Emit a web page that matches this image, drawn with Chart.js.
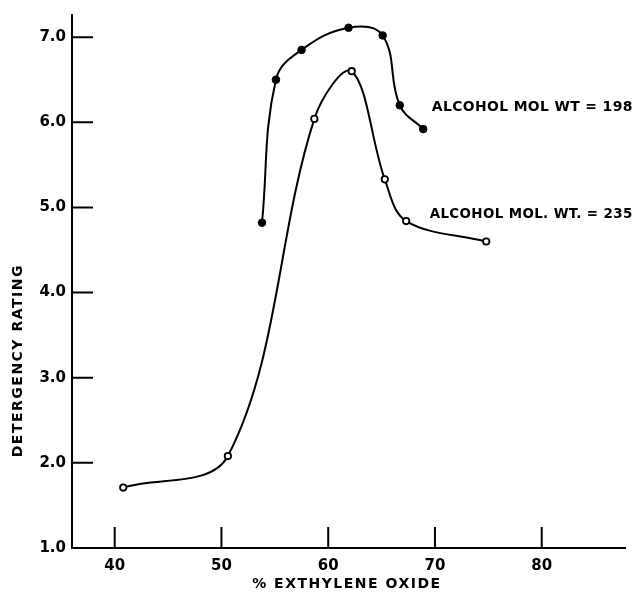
<!DOCTYPE html>
<html>
<head>
<meta charset="utf-8">
<script src="https://cdn.jsdelivr.net/npm/chart.js@4"></script>
<style>
  html, body { margin: 0; padding: 0; background: #fff; }
  #wrap { width: 639px; height: 597px; position: relative; }
</style>
</head>
<body>
<div id="wrap"><canvas id="detChart"></canvas></div>
<script>
// Values
const xTicks = [40, 50, 60, 70, 80];
const yTicks = [1, 2, 3, 4, 5, 6, 7];

const mw198X = [53.8, 55.1, 57.5, 61.9, 65.1, 66.7, 68.9];
const mw198Y = [4.82, 6.50, 6.85, 7.11, 7.02, 6.20, 5.92];

const mw235X = [40.8, 50.6, 58.7, 62.2, 65.3, 67.3, 74.8];
const mw235Y = [1.71, 2.08, 6.04, 6.60, 5.33, 4.84, 4.60];

const seriesLabels = ['ALCOHOL MOL WT = 198', 'ALCOHOL MOL. WT. = 235'];
const xTitle = '% EXTHYLENE OXIDE';
const yTitle = 'DETERGENCY RATING';

const FONT = '"DejaVu Sans", sans-serif';
const X_MIN = 36, X_MAX = 87.8;
const Y_MIN = 1, Y_MAX = 7.26;

const toPts = (xs, ys) => xs.map((x, i) => ({ x, y: ys[i] }));

// inward tick marks, axis titles and curve labels
const decor = {
  id: 'decor',
  afterDraw(chart) {
    const { ctx, chartArea: a, scales: { x, y } } = chart;
    ctx.save();
    ctx.strokeStyle = '#000';
    ctx.lineWidth = 2;
    ctx.beginPath();
    yTicks.slice(1).forEach(v => {
      const py = y.getPixelForValue(v);
      ctx.moveTo(a.left, py);
      ctx.lineTo(a.left + 21, py);
    });
    xTicks.forEach(v => {
      const px = x.getPixelForValue(v);
      ctx.moveTo(px, a.bottom);
      ctx.lineTo(px, a.bottom - 21);
    });
    ctx.stroke();

    ctx.fillStyle = '#000';
    ctx.font = 'bold 14px ' + FONT;
    ctx.letterSpacing = '0.4px';
    ctx.textBaseline = 'middle';
    ctx.textAlign = 'left';
    ctx.fillText(seriesLabels[0], x.getPixelForValue(69.7), y.getPixelForValue(6.18), 201);
    ctx.fillText(seriesLabels[1], x.getPixelForValue(69.5), y.getPixelForValue(4.92), 203);

    // axis titles
    ctx.letterSpacing = '1.5px';
    ctx.textAlign = 'center';
    ctx.fillText(xTitle, x.getPixelForValue(61.75), 584, 200);
    ctx.translate(18, y.getPixelForValue(3.2));
    ctx.rotate(-Math.PI / 2);
    ctx.fillText(yTitle, 0, 0);
    ctx.restore();
  }
};

new Chart(document.getElementById('detChart').getContext('2d'), {
  type: 'scatter',
  data: {
    datasets: [
      {
        label: seriesLabels[0],
        data: toPts(mw198X, mw198Y),
        showLine: true,
        tension: 0.4,
        borderColor: '#000',
        borderWidth: 2,
        pointRadius: 3.8,
        pointBackgroundColor: '#000',
        pointBorderColor: '#000',
        pointBorderWidth: 1,
      },
      {
        label: seriesLabels[1],
        data: toPts(mw235X, mw235Y),
        showLine: true,
        tension: 0.35,
        borderColor: '#000',
        borderWidth: 2,
        pointRadius: 3.2,
        pointBackgroundColor: '#fff',
        pointBorderColor: '#000',
        pointBorderWidth: 1.8,
      }
    ]
  },
  options: {
    responsive: true,
    maintainAspectRatio: false,
    animation: false,
    layout: { padding: { top: 13, right: 14, left: 0, bottom: 0 } },
    plugins: {
      legend: { display: false },
      tooltip: { enabled: false }
    },
    scales: {
      x: {
        type: 'linear',
        min: X_MIN,
        max: X_MAX,
        afterBuildTicks: s => { s.ticks = xTicks.map(v => ({ value: v })); },
        afterFit: s => { s.height = 49; },
        border: { display: true, color: '#000', width: 2 },
        grid: { display: false, drawTicks: false },
        ticks: { color: '#000', padding: 9, font: { family: FONT, size: 15, weight: 'bold' } }
      },
      y: {
        min: Y_MIN,
        max: Y_MAX,
        afterBuildTicks: s => { s.ticks = yTicks.map(v => ({ value: v })); },
        afterFit: s => { s.width = 72; },
        border: { display: true, color: '#000', width: 2 },
        grid: { display: false, drawTicks: false },
        ticks: {
          color: '#000',
          padding: 6,
          font: { family: FONT, size: 15, weight: 'bold' },
          callback: v => Number(v).toFixed(1)
        }
      }
    }
  },
  plugins: [decor]
});
</script>
</body>
</html>
